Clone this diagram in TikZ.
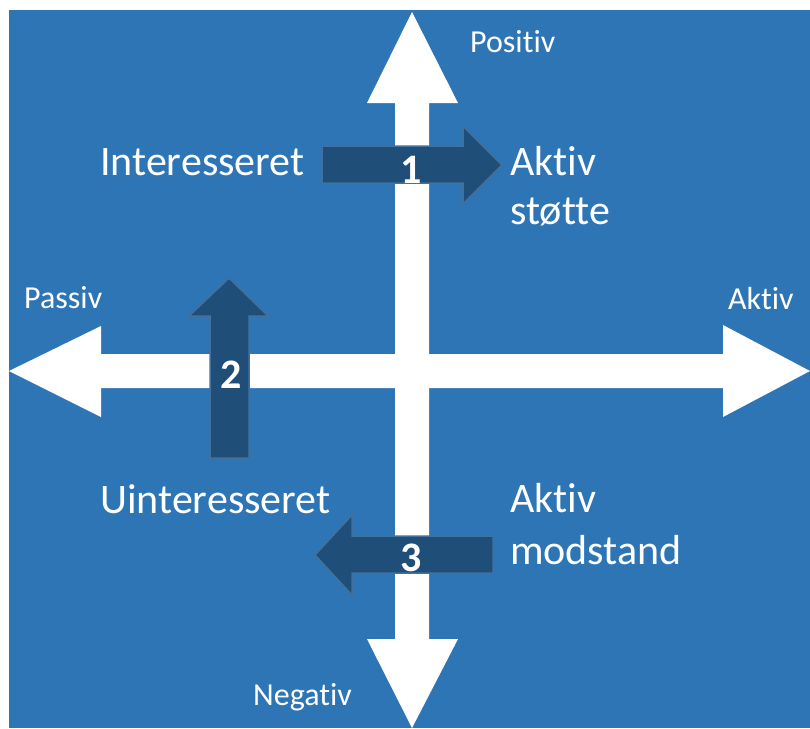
\documentclass[tikz,border=0pt]{standalone}
\usepackage{fontspec}
\setmainfont{Carlito}[Ligatures=NoCommon]
\usepackage{tikz}
\definecolor{bgblue}{RGB}{46,117,182}
\definecolor{darkblue}{RGB}{31,78,121}
\definecolor{edgeblue}{RGB}{65,113,156}

\begin{document}
\begin{tikzpicture}[x=1pt,y=-1pt]
		\tikzstyle{axis_arrow}=[fill=white, draw=none]
		\tikzstyle{move_arrow}=[fill=darkblue, draw=edgeblue, line width=1.5pt, line join=miter]
		\tikzstyle{big_text}=[text=white, font=\fontsize{42}{50}\selectfont, inner sep=0pt, anchor=base west, align=left]
		\tikzstyle{small_text}=[text=white, font=\fontsize{32}{38}\selectfont, inner sep=0pt, anchor=base west]
		\tikzstyle{num_text}=[text=white, font=\fontsize{42}{50}\selectfont\bfseries, inner sep=0pt, anchor=base]

		\useasboundingbox (0,0) rectangle (810,728);
		\fill[bgblue] (9,10) rectangle (810,728);

		% axes
		\fill[axis_arrow] (412,12) -- (458,103) -- (429,103) -- (429,639) -- (458,639) -- (412,728)
			-- (367,639) -- (395,639) -- (395,103) -- (367,103) -- cycle;
		\fill[axis_arrow] (9,371) -- (101,326) -- (101,354) -- (723,354) -- (723,325) -- (810,371)
			-- (723,417) -- (723,388) -- (101,388) -- (101,417) -- cycle;

		\node [small_text] (positiv) at (470,52) {Positiv};
		\node [small_text] (negativ) at (253,705) {Negativ};
		\node [small_text] (passiv) at (24,308) {Passiv};
		\node [small_text] (aktiv) at (728,309) {Aktiv};

		% moves
		\draw[move_arrow] (322,146) -- (463,146) -- (463,126) -- (502,165) -- (463,204) -- (463,183) -- (322,183) -- cycle;
		\draw[move_arrow] (210,458) -- (210,316) -- (189,316) -- (229,278) -- (268,316) -- (249,316) -- (249,458) -- cycle;
		\draw[move_arrow] (493,536) -- (352,536) -- (352,515) -- (315,555) -- (352,595) -- (352,573) -- (493,573) -- cycle;

		\node [num_text] (move1) at (411,183) {1};
		\node [num_text] (move2) at (231,388) {2};
		\node [num_text] (move3) at (411,571) {3};

		\node [big_text] (interesseret) at (100,175) {Interesseret};
		\node [big_text] (uinteresseret) at (100,513) {Uinteresseret};
		\node [big_text] (stoette) at (510,224) {Aktiv\\[-1pt]støtte};
		\node [big_text] (modstand) at (510,564) {Aktiv\\[2pt]modstand};
\end{tikzpicture}
\end{document}
